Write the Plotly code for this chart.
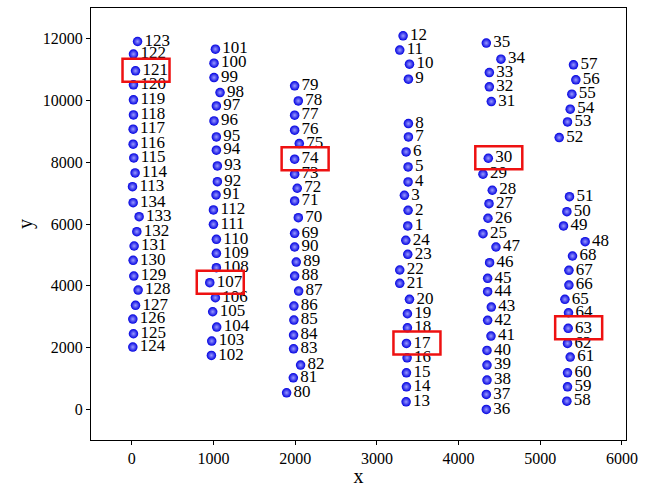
import plotly.graph_objects as go

labels = [123,122,121,120,119,118,117,116,115,114,113,134,133,132,131,130,129,128,127,126,125,124,
          101,100,99,98,97,96,95,94,93,92,91,112,111,110,109,108,107,106,105,104,103,102,
          79,78,77,76,75,74,73,72,71,70,69,90,89,88,87,86,85,84,83,82,81,80,
          12,11,10,9,8,7,6,5,4,3,2,1,24,23,22,21,20,19,18,17,16,15,14,13,
          35,34,33,32,31,30,29,28,27,26,25,47,46,45,44,43,42,41,40,39,38,37,36,
          57,56,55,54,53,52,51,50,49,48,68,67,66,65,64,63,62,61,60,59,58]

x_vals = [70,20,45,20,20,20,16,16,24,40,8,16,89,61,28,16,24,77,45,12,20,12,
          1023,1006,1006,1080,1035,1006,1035,1035,1047,1047,1031,999,999,1035,1035,1035,954,1023,990,1039,978,974,
          1993,2038,1993,1993,2050,1993,1993,2025,1993,2038,1993,1993,2013,1993,2042,1984,1984,1980,1980,2066,1977,1895,
          3321,3280,3399,3386,3386,3386,3358,3382,3382,3337,3382,3378,3354,3378,3280,3280,3399,3374,3374,3362,3370,3362,3362,3358,
          4340,4519,4377,4377,4401,4364,4299,4413,4373,4360,4299,4458,4380,4356,4356,4401,4356,4397,4348,4348,4348,4340,4340,
          5407,5436,5387,5367,5334,5232,5358,5326,5285,5550,5395,5351,5351,5302,5346,5342,5334,5367,5334,5334,5326]

y_vals = [11914,11506,10963,10509,10023,9536,9072,8585,8141,7655,7211,6692,6237,5751,5287,4823,4314,3860,3363,2919,2443,2011,
          11667,11213,10746,10260,9828,9341,8823,8391,7882,7373,6941,6455,5991,5504,5050,4583,4097,3610,3156,2660,2206,1742,
          10477,9990,9526,9040,8606,8099,7613,7159,6747,6205,5699,5255,4768,4314,3827,3341,2887,2400,1956,1427,1016,530,
          12099,11635,11181,10694,9254,8823,8336,7850,7363,6931,6445,5936,5472,5018,4509,4077,3558,3091,2637,2131,1664,1178,723,237,
          11862,11343,10909,10444,9968,8131,7613,7094,6659,6186,5686,5255,4745,4239,3805,3308,2877,2368,1904,1427,941,477,-10,
          11158,10671,10208,9721,9309,8800,6886,6399,5936,5427,4963,4499,4022,3558,3124,2618,2131,1687,1178,723,259]

highlighted = [121, 107, 74, 17, 30, 63]

x_ticks = [0, 1000, 2000, 3000, 4000, 5000, 6000]
y_ticks = [0, 2000, 4000, 6000, 8000, 10000, 12000]

serif = "Liberation Serif, Times New Roman, serif"

fig = go.Figure()
fig.add_trace(go.Scatter(
    x=x_vals, y=y_vals, mode="markers+text",
    text=[str(v) for v in labels], textposition="middle right",
    textfont=dict(family=serif, size=17, color="black"),
    marker=dict(size=9.5, color="#0000e0",
                gradient=dict(type="radial", color="#9a9aff"),
                line=dict(width=0)),
    cliponaxis=False, showlegend=False,
))

shapes = []
for lab in highlighted:
    i = labels.index(lab)
    shapes.append(dict(
        type="rect", xref="x", yref="y",
        xsizemode="pixel", ysizemode="pixel",
        xanchor=x_vals[i], yanchor=y_vals[i],
        x0=-13, x1=34, y0=-11, y1=12,
        line=dict(color="#ee1111", width=2.5), fillcolor="rgba(0,0,0,0)",
    ))

axis_common = dict(
    showgrid=False, zeroline=False, showline=True, linecolor="black", linewidth=1.3,
    mirror=True, ticks="outside", ticklen=4, tickwidth=1.2, tickcolor="black",
    tickfont=dict(family=serif, size=16, color="black"), automargin=False,
)

fig.update_layout(
    width=657, height=487,
    margin=dict(l=91, r=31, t=8, b=47),
    paper_bgcolor="white", plot_bgcolor="white",
    shapes=shapes,
    xaxis=dict(range=[-500, 6050], tickvals=x_ticks, ticktext=[str(v) for v in x_ticks],
               title=dict(text="x", font=dict(family=serif, size=20, color="black"), standoff=0),
               **axis_common),
    yaxis=dict(range=[-1000, 13000], tickvals=y_ticks, ticktext=[str(v) for v in y_ticks],
               title=dict(text="y", font=dict(family=serif, size=20, color="black"), standoff=4),
               **axis_common),
)

fig.write_html("out.html", config={"displayModeBar": False},
               post_script="document.body.style.margin='0px';")
